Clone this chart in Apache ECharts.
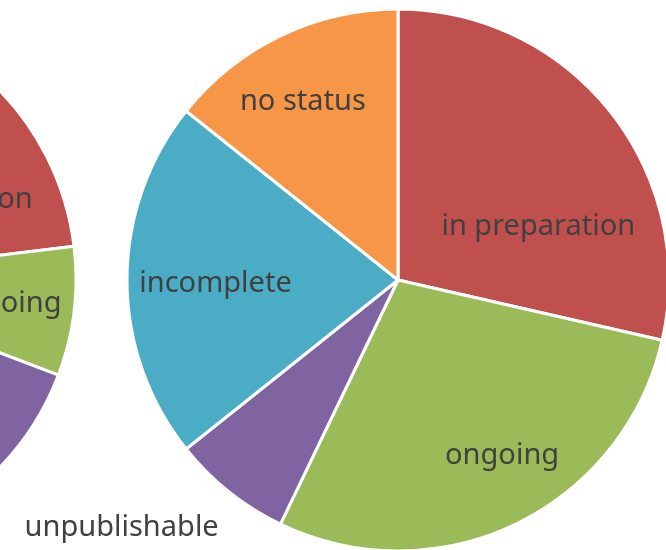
<!DOCTYPE html>
<html>
<head>
<meta charset="utf-8">
<script src="https://cdn.jsdelivr.net/npm/echarts@6/dist/echarts.min.js"></script>
<style>
  html, body { margin: 0; padding: 0; background: #fff; }
  #chart { width: 666px; height: 550px; }
</style>
</head>
<body>
<div id="chart"></div>
<script>
const statuses = ['in preparation', 'ongoing', 'unpublishable', 'incomplete', 'no status'];
const mainValues = [4, 4, 1, 3, 2];
const leftValues = [3, 1, 2, 4, 3];
const colors = ['#C0504D', '#9BBB59', '#8064A2', '#4BACC6', '#F79646'];

// nudges to move labels where the original chart put them
const mainLabelOffsets = [[32, 33], [44, 51], [-190, 139], [-44, 4], [-35, -53]];
const leftLabelOffsets = [[39, 24], [62, 8], [0, 0], [0, 0], [0, 0]];

const labelStyle = {
  show: true,
  position: 'inside',
  color: '#404040',
  fontFamily: 'Noto Sans',
  fontSize: 29
};

function buildData(values, offsets) {
  return statuses.map((name, i) => ({
    name: name,
    value: values[i],
    itemStyle: { color: colors[i] },
    label: { offset: offsets[i] }
  }));
}

const chart = echarts.init(document.getElementById('chart'));
const option = {
  animation: false,
  series: [
    {
      type: 'pie',
      center: [-195, 279],
      radius: [0, 271],
      startAngle: 90,
      clockwise: true,
      label: labelStyle,
      labelLine: { show: false },
      itemStyle: { borderColor: '#fff', borderWidth: 3 },
      emphasis: { disabled: true },
      data: buildData(leftValues, leftLabelOffsets)
    },
    {
      type: 'pie',
      center: [398, 280],
      radius: [0, 271],
      startAngle: 90,
      clockwise: true,
      label: labelStyle,
      labelLine: { show: false },
      itemStyle: { borderColor: '#fff', borderWidth: 3 },
      emphasis: { disabled: true },
      data: buildData(mainValues, mainLabelOffsets)
    }
  ]
};
chart.setOption(option);
</script>
</body>
</html>
